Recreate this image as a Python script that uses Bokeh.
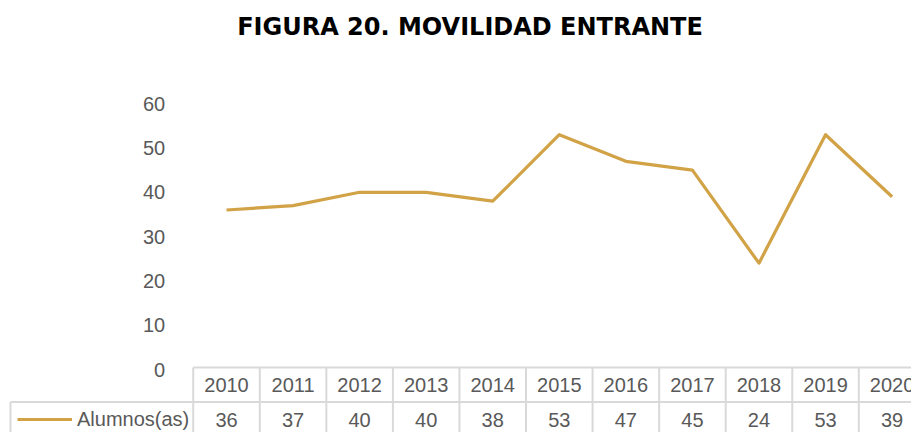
from bokeh.plotting import figure
from bokeh.models import Range1d, FixedTicker, Legend, LegendItem
from bokeh.embed import file_html
from bokeh.resources import INLINE

# ---- data ----
years = ["2010", "2011", "2012", "2013", "2014", "2015", "2016", "2017", "2018", "2019", "2020"]
alumnos = [36, 37, 40, 40, 38, 53, 47, 45, 24, 53, 39]
series_name = "Alumnos(as)"
y_ticks = [0, 10, 20, 30, 40, 50, 60]
title_text = "FIGURA 20. MOVILIDAD ENTRANTE"

# ---- layout constants (pixels) ----
W, H = 911, 432
X0PX, STEP = 226.0, 66.56   # center of first category, category width
Y0PX, PPU = 369.0, 4.43     # y pixel of value 0, pixels per unit

def xd(px):
    return (px - X0PX) / STEP

def yd(py):
    return (Y0PX - py) / PPU

LINE_COLOR = "#D1A246"
GRID = "#D9D9D9"
TXT = "#595959"
FONT = "Liberation Sans, Arial, sans-serif"

xi = list(range(len(years)))

p = figure(width=W, height=H, output_backend="svg", toolbar_location=None,
           x_range=Range1d(xd(0), xd(W)), y_range=Range1d(yd(H), yd(0)),
           min_border_left=0, min_border_right=0, min_border_bottom=0, min_border_top=0,
           x_axis_location=None)
p.outline_line_color = None
p.xgrid.visible = False
p.ygrid.visible = False
p.background_fill_color = "white"
p.border_fill_color = "white"

# title (drawn as text at the top of the canvas)
p.text([xd(469.5)], [yd(26)], text=[title_text], text_align="center", text_baseline="middle",
       text_font={"value": "DejaVu Sans"}, text_font_style="bold", text_font_size="24px",
       text_color="#000000")

# y axis placed at the table edge
ax = p.yaxis[0]
ax.fixed_location = -0.5
ax.ticker = FixedTicker(ticks=y_ticks)
ax.axis_line_color = None
ax.major_tick_line_color = None
ax.minor_tick_line_color = None
ax.major_label_standoff = 22
ax.major_label_text_font = FONT
ax.major_label_text_font_size = "20px"
ax.major_label_text_color = TXT

# line series
line = p.line(xi, alumnos, line_color=LINE_COLOR, line_width=3.2, line_join="round")

# ---- data table ----
y_head_top = yd(367)
y_mid = yd(401.5)
y_bot = yd(H + 5)
x_left_cell = xd(10)
x_end = xd(W + 50)

hx0 = [-0.5, x_left_cell]
hx1 = [x_end, x_end]
hy = [y_head_top, y_mid]
p.segment(hx0, hy, hx1, hy, line_color=GRID, line_width=2)

vx = [i - 0.5 for i in range(len(years) + 1)]
p.segment(vx, [y_bot] * len(vx), vx, [y_head_top] * len(vx), line_color=GRID, line_width=2)
p.segment([x_left_cell], [y_bot], [x_left_cell], [y_mid], line_color=GRID, line_width=2)

p.text(xi, [yd(384.5)] * len(xi), text=years, text_align="center", text_baseline="middle",
       text_font_size="20px", text_color=TXT, text_font={"value": FONT})
p.text(xi, [yd(419)] * len(xi), text=[str(v) for v in alumnos], text_align="center",
       text_baseline="middle", text_font_size="20px", text_color=TXT, text_font={"value": FONT})

legend = Legend(items=[LegendItem(label=series_name, renderers=[line])],
                location=(17, 0), orientation="vertical",
                glyph_width=55, glyph_height=26, label_standoff=5, padding=0, margin=0,
                spacing=0, border_line_color=None, background_fill_alpha=0,
                label_text_font=FONT, label_text_font_size="20px", label_text_color=TXT,
                label_height=26)
p.add_layout(legend, "center")

open("out.html", "w").write(file_html(p, INLINE))
